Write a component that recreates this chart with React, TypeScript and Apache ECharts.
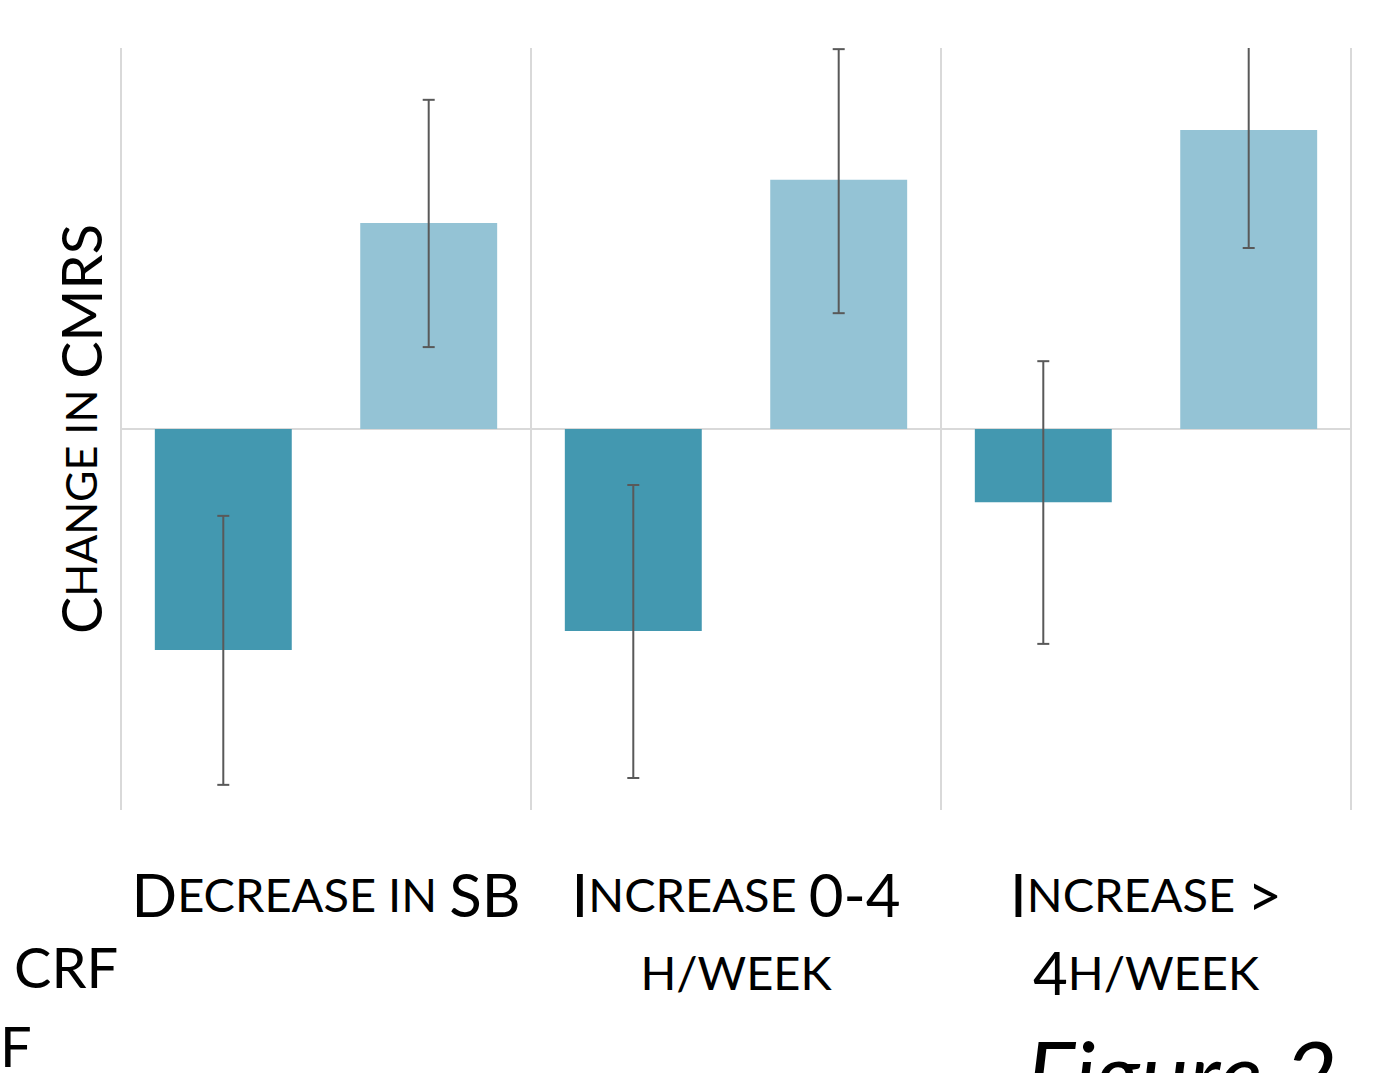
import React, { useEffect, useRef } from "react";
import * as echarts from "echarts";

const categories = ["Decrease in SB", "Increase 0-4 h/week", "Increase > 4h/week"];
const tickLabels = [
  "{b|D}{s|ECREASE IN }{b|SB}",
  "{b|I}{s|NCREASE }{b|0-4}\n{s|H/WEEK}",
  "{b|I}{s|NCREASE }{b|>}\n{b|4}{s|H/WEEK}",
];
const yAxisTitle = "{b|C}{s|HANGE IN }{b|CMRS}";
const seriesNames = ["Series 1", "Series 2"];
const darkValues = [-0.58, -0.53, -0.192];
const darkLow = [-0.934, -0.916, -0.564];
const darkHigh = [-0.228, -0.147, 0.178];
const lightValues = [0.541, 0.654, 0.785];
const lightLow = [0.215, 0.304, 0.475];
const lightHigh = [0.864, 0.997, 1.12];

const FONT = "Lato";
const DARK = "#4398b0";
const LIGHT = "#94c3d5";
const GRIDC = "#d9d9d9";

const richStyles = {
  b: { fontFamily: FONT, fontSize: 60, color: "#000", lineHeight: 78 },
  s: { fontFamily: FONT, fontSize: 47, color: "#000", lineHeight: 78 },
};
const richY = {
  b: { fontFamily: FONT, fontSize: 56, fill: "#000", lineHeight: 70 },
  s: { fontFamily: FONT, fontSize: 43, fill: "#000", lineHeight: 70 },
};

function errorSeries(low: number[], high: number[], side: number) {
  return {
    type: "custom",
    clip: true,
    z: 5,
    data: categories.map((_, i) => [i, low[i], high[i]]),
    renderItem: (params: any, api: any) => {
      const idx = api.value(0);
      const band = api.size([1, 0])[0];
      const barW = band * 0.334;
      const off = side * barW * 0.75;
      const p1 = api.coord([idx, api.value(1)]);
      const p2 = api.coord([idx, api.value(2)]);
      const x = p1[0] + off;
      const cap = 6;
      const style = { stroke: "#595959", lineWidth: 2 };
      return {
        type: "group",
        children: [
          { type: "line", shape: { x1: x, y1: p1[1], x2: x, y2: p2[1] }, style },
          { type: "line", shape: { x1: x - cap, y1: p1[1], x2: x + cap, y2: p1[1] }, style },
          { type: "line", shape: { x1: x - cap, y1: p2[1], x2: x + cap, y2: p2[1] }, style },
        ],
      };
    },
  };
}

export default function App() {
  const ref = useRef<HTMLDivElement>(null);
  useEffect(() => {
    document.body.style.margin = "0";
    const chart = echarts.init(ref.current!, undefined, { renderer: "svg" });
    chart.setOption({
      animation: false,
      backgroundColor: "#fff",
      grid: { left: 121, right: 44, top: 48, bottom: 263 },
      xAxis: {
        type: "category",
        data: categories,
        axisLine: { show: false },
        axisTick: { show: false },
        splitLine: { show: true, interval: 0, lineStyle: { color: GRIDC, width: 2 } },
        axisLabel: {
          interval: 0,
          margin: 45,
          formatter: (_v: string, i: number) => tickLabels[i],
          rich: richStyles,
          lineHeight: 78,
          align: "center",
        },
      },
      yAxis: {
        type: "value",
        min: -1,
        max: 1,
        show: false,
        splitLine: { show: false },
      },
      series: [
        {
          name: seriesNames[0],
          type: "bar",
          data: darkValues,
          barWidth: "33.4%",
          barGap: "50%",
          itemStyle: { color: DARK },
          markLine: {
            silent: true,
            symbol: "none",
            label: { show: false },
            lineStyle: { color: GRIDC, width: 2, type: "solid" },
            data: [{ yAxis: 0 }],
            z: 1,
          },
        },
        {
          name: seriesNames[1],
          type: "bar",
          data: lightValues,
          barWidth: "33.4%",
          barGap: "50%",
          itemStyle: { color: LIGHT },
        },
        errorSeries(darkLow, darkHigh, -1),
        errorSeries(lightLow, lightHigh, 1),
      ],
      graphic: [
        {
          type: "text",
          x: 80,
          y: 429,
          rotation: Math.PI / 2,
          style: {
            text: yAxisTitle,
            rich: richY,
            align: "center",
            verticalAlign: "middle",
          },
        },
        {
          type: "text",
          left: 14,
          top: 938,
          style: { text: "CRF", fontFamily: FONT, fontSize: 56, fill: "#000" },
        },
        {
          type: "text",
          left: 0,
          top: 1017,
          style: { text: "F", fontFamily: FONT, fontSize: 56, fill: "#000" },
        },
        {
          type: "text",
          left: 1026,
          top: 1026,
          style: { text: "Figure 2", fontFamily: FONT, fontSize: 92, fontStyle: "italic", fill: "#000" },
        },
      ],
    });
    return () => chart.dispose();
  }, []);
  return <div ref={ref} style={{ position: "fixed", left: 0, top: 0, width: 1395, height: 1073 }} />;
}
